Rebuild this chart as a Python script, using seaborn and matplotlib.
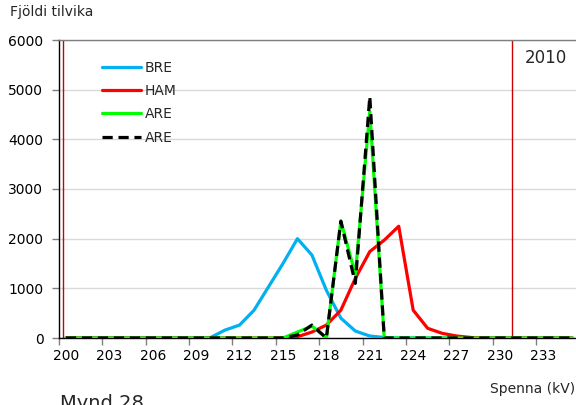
import matplotlib
matplotlib.use("Agg")
import matplotlib.pyplot as plt
import seaborn as sns
import pandas as pd
import numpy as np
from matplotlib.ticker import FixedLocator

# ---- data ----
categories = list(range(200, 236))
bre = [0]*10 + [10, 160, 260, 560, 1030, 1500, 2000, 1670, 960, 400, 140, 40, 10] + [0]*13
ham = [0]*15 + [5, 25, 120, 260, 560, 1200, 1740, 1970, 2250, 560, 195, 94, 40, 10] + [0]*7
are_green = [0]*16 + [120, 240, 0, 2360, 1280, 4560, 0] + [0]*13
are_black = [0]*16 + [60, 260, 0, 2350, 1100, 4860, 0] + [0]*13
xtick_labels = [200, 203, 206, 209, 212, 215, 218, 221, 224, 227, 230, 233]
yticks = [0, 1000, 2000, 3000, 4000, 5000, 6000]

df = pd.DataFrame({"x": categories, "BRE": bre, "HAM": ham,
                   "ARE_g": are_green, "ARE_k": are_black})

sns.set_theme(style="white")
plt.rcParams["font.family"] = ["DejaVu Sans"]

fig = plt.figure(figsize=(5.76, 4.05), dpi=100)
ax = fig.add_axes([58.7/576, 67/405, (579.6-58.7)/576, 298/405])

lw = 2.3
sns.lineplot(data=df, x="x", y="BRE", ax=ax, color="#00B0F0", lw=lw, label="BRE", zorder=3)
sns.lineplot(data=df, x="x", y="HAM", ax=ax, color="#FF0000", lw=lw, label="HAM", zorder=4)
sns.lineplot(data=df, x="x", y="ARE_g", ax=ax, color="#00FF00", lw=lw, label="ARE", zorder=5)
sns.lineplot(data=df, x="x", y="ARE_k", ax=ax, color="black", lw=lw, label="ARE", zorder=6,
             dashes=False)
ax.lines[-1].set_linestyle((0, (3.2, 1.8)))

ax.set_xlim(199.5, 235.5)
ax.set_ylim(0, 6000)
ax.set_xlabel("")
ax.set_ylabel("")

# gridlines
ax.set_yticks(yticks)
ax.set_yticklabels([str(v) for v in yticks], fontsize=10, color="black")
ax.yaxis.grid(True, color="#d9d9d9", lw=1)
ax.set_axisbelow(True)
ax.tick_params(axis="y", which="major", length=5, width=1, color="#808080", pad=6, left=True)

ax.set_xticks(xtick_labels)
ax.set_xticklabels([str(v) for v in xtick_labels], fontsize=10, color="black")
ax.xaxis.set_minor_locator(FixedLocator([v - 0.5 for v in xtick_labels]))
ax.tick_params(axis="x", which="major", length=0, pad=8, bottom=True)
ax.tick_params(axis="x", which="minor", length=5, width=1, color="#808080", bottom=True)

for s in ["left", "bottom"]:
    ax.spines[s].set_color("black")
    ax.spines[s].set_linewidth(1)
ax.spines["top"].set_color("#7f7f7f")
ax.spines["top"].set_linewidth(1)
ax.spines["right"].set_visible(False)

# red vertical markers
for xv in [199.83, 230.82]:
    ax.axvline(xv, color="#CC0000", lw=1, zorder=2)

leg = ax.legend(loc="upper left", bbox_to_anchor=(102/576, 1-61/405),
                bbox_transform=fig.transFigure, frameon=False, fontsize=10,
                handlelength=2.8, handletextpad=0.3, labelspacing=0.66,
                borderpad=0, borderaxespad=0)

fig.text(10/576, 1-12/405, "Fjöldi tilvika", fontsize=10, va="center", ha="left")
fig.text(567/576, 1-58/405, "2010", fontsize=12, va="center", ha="right")
fig.text(575/576, 1-389/405, "Spenna (kV)", fontsize=10, va="center", ha="right")
fig.text(60/576, 1-409/405, "Mynd 28", fontsize=14, va="baseline", ha="left")

fig.savefig("out.png", dpi=100)
